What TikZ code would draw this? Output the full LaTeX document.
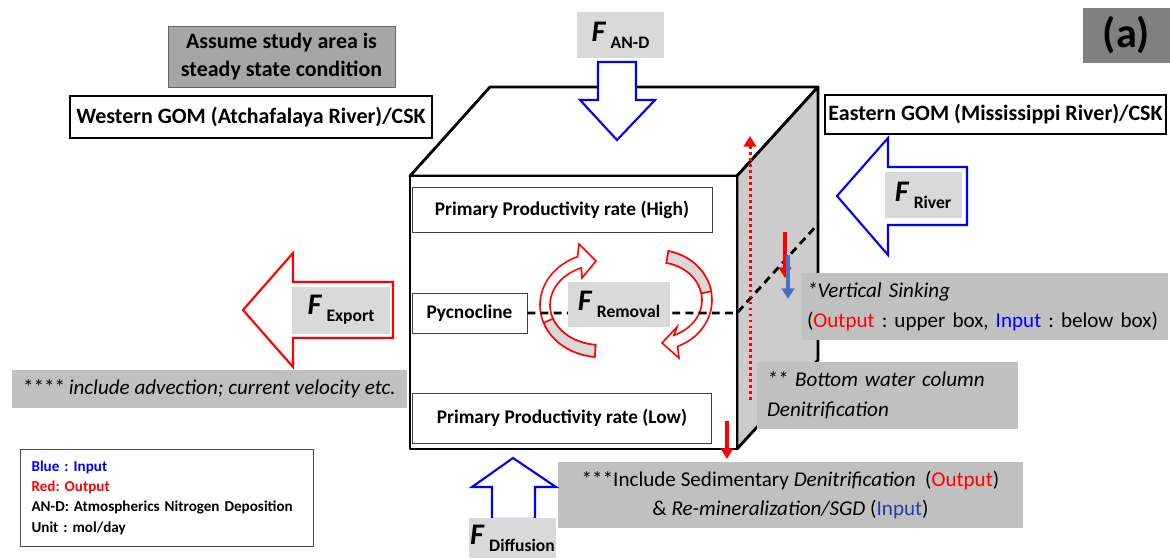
\documentclass[tikz,border=0pt]{standalone}
\usepackage{fontspec}
\setmainfont{Carlito}
\usepackage{tikz}
\usetikzlibrary{positioning, calc, arrows.meta}
\definecolor{gmInBlue}{RGB}{0,0,255}
\definecolor{gmOutRed}{RGB}{255,0,0}
\definecolor{gmSinkBlue}{RGB}{68,114,196}
\definecolor{gmDeepBlue}{RGB}{40,60,170}
\definecolor{gmLabel}{RGB}{217,217,217}
\definecolor{gmNote}{RGB}{192,192,192}
\definecolor{gmAssume}{RGB}{166,166,166}
\definecolor{gmTag}{RGB}{128,128,128}
\definecolor{gmFace}{RGB}{204,204,204}
\newcommand{\fluxlbl}[1]{{\fontsize{17}{20}\selectfont\bfseries\itshape F}\hspace{3pt}\raisebox{-4pt}{\fontsize{10}{12}\selectfont\bfseries #1}}
\frenchspacing

\begin{document}
\begin{tikzpicture}[
    x=0.02cm, y=-0.02cm,
    face/.style={draw=black, line width=1.6pt, line join=round},
    ppbox/.style={draw=black!75, thin, fill=white, inner sep=0pt, font=\fontsize{11}{13}\selectfont\bfseries},
    region/.style={draw=black, line width=1.6pt, fill=white, inner sep=0pt, font=\fontsize{12.5}{15}\selectfont\bfseries},
    fluxbox/.style={fill=gmLabel, inner sep=0pt},
    note/.style={fill=gmNote, inner sep=0pt, font=\fontsize{12}{17}\selectfont},
    inflow/.style={draw=gmInBlue, line width=1.2pt, fill=white, line join=miter},
    outflow/.style={draw=gmOutRed, line width=1.2pt, fill=white, line join=miter},
    swirl/.style={draw=gmOutRed, line width=0.9pt},
    sink/.style={line width=1.8pt, -{Triangle[length=6pt, width=7pt]}}
  ]
  \useasboundingbox (0,0) rectangle (1170,558);

  \coordinate (ftl) at (410,176);
  \coordinate (ftr) at (737,176);
  \coordinate (fbr) at (737,449);
  \coordinate (fbl) at (410,449);
  \coordinate (btl) at (490,87);
  \coordinate (btr) at (818,87);
  \coordinate (bbr) at (818,360);

  \draw[face, fill=white] (ftl) -- (btl) -- (btr) -- (ftr) -- cycle;
  \draw[face, fill=gmFace] (ftr) -- (btr) -- (bbr) -- (fbr) -- cycle;
  \draw[face, fill=white] (ftl) rectangle (fbr);

  \node[ppbox, minimum width=6cm, minimum height=0.9cm] (high) at (562,209.5) {Primary Productivity rate (High)};
  \node[ppbox, minimum width=5.98cm, minimum height=1cm] (low) at (562,418) {Primary Productivity rate (Low)};
  \node[ppbox, minimum width=2.3cm, minimum height=0.8cm] (pyc) at (469.5,313) {Pycnocline};

  \draw[inflow] (598,62) -- (636,62) -- (636,100) -- (655,100) -- (617,140) -- (580,100) -- (598,100) -- cycle;
  \node[fluxbox, minimum width=1.74cm, minimum height=0.92cm] (fand) at (620.5,35) {\fluxlbl{AN-D}};

  \draw[swirl, fill=white]
    plot[domain=265:112, samples=40] ({600+60*cos(\x)},{305-52*sin(\x)})
    -- (579,244) -- (596,261) -- (582,278)
    -- plot[domain=112:265, samples=40] ({600+50*cos(\x)},{305-40*sin(\x)}) -- cycle;
  \draw[swirl, fill=gmLabel]
    plot[domain=265:200, samples=20] ({600+60*cos(\x)},{305-52*sin(\x)})
    -- plot[domain=200:265, samples=20] ({600+50*cos(\x)},{305-40*sin(\x)}) -- cycle;
  \draw[swirl, fill=white]
    plot[domain=78:-68, samples=40] ({657+55*cos(\x)},{300-50*sin(\x)})
    -- (679,358) -- (662,343) -- (677,327)
    -- plot[domain=-68:78, samples=40] ({657+45*cos(\x)},{300-38*sin(\x)}) -- cycle;
  \draw[swirl, fill=gmLabel]
    plot[domain=78:10, samples=20] ({657+55*cos(\x)},{300-50*sin(\x)})
    -- plot[domain=10:78, samples=20] ({657+45*cos(\x)},{300-38*sin(\x)}) -- cycle;

  \coordinate (dmid) at (737,313);
  \coordinate (dend) at (818,224);
  \draw[line width=1.6pt, dash pattern=on 4.5pt off 3pt] (pyc.east) -- (dmid) -- (dend);
  \node[fluxbox, minimum width=2.04cm, minimum height=0.9cm] (frem) at (619,304) {\fluxlbl{Removal}};

  \coordinate (dotlo) at (750,400);
  \coordinate (dothi) at (750,136);
  \draw[gmOutRed, line width=1.7pt, dash pattern=on 1.6pt off 1.8pt, -{Triangle[length=6pt, width=7pt]}] (dotlo) -- (dothi);

  \coordinate (sr1) at (785,232);
  \coordinate (sr2) at (785,278);
  \coordinate (sb1) at (788,255);
  \coordinate (sb2) at (788,299);
  \draw[sink, gmOutRed] (sr1) -- (sr2);
  \draw[sink, gmSinkBlue] (sb1) -- (sb2);

  \node[note, minimum width=7.32cm, minimum height=1.34cm, text width=7.12cm, align=left] (sinking) at (985,306.5)
    {\textit{*Vertical Sinking}\\(\textcolor{gmOutRed}{Output} : upper box, \textcolor{gmInBlue}{Input} : below box)};
  \node[note, minimum width=5.22cm, minimum height=1.34cm, text width=4.82cm, align=left] (bottom) at (887.5,395.5)
    {\textit{** Bottom water column}\\\textit{Denitrification}};

  \coordinate (bd1) at (727,421);
  \coordinate (bd2) at (727,459);
  \draw[sink, gmOutRed] (bd1) -- (bd2);

  \node[note, minimum width=9.3cm, minimum height=1.32cm, align=center] (sed) at (790.5,495)
    {***Include Sedimentary \textit{Denitrification}~ (\textcolor{gmOutRed}{Output})\\\& \textit{Re-mineralization/SGD} (\textcolor{gmDeepBlue}{Input})};

  \draw[inflow] (967,167) -- (888,167) -- (888,138) -- (837,196) -- (888,255) -- (888,225) -- (967,225) -- cycle;
  \node[fluxbox, minimum width=1.54cm, minimum height=0.92cm] (friver) at (923,195) {\fluxlbl{River}};

  \draw[outflow] (393,282) -- (293,282) -- (293,253) -- (243,310) -- (293,367) -- (293,338) -- (393,338) -- cycle;
  \node[fluxbox, minimum width=1.96cm, minimum height=0.94cm] (fexport) at (341,310) {\fluxlbl{Export}};

  \draw[inflow] (492,519) -- (492,487) -- (472,487) -- (513,458) -- (556,487) -- (535,487) -- (535,519) -- cycle;
  \node[fluxbox, minimum width=1.74cm, minimum height=0.8cm] (fdiff) at (512.5,538) {\fluxlbl{Diffusion}};

  \node[note, minimum width=7.9cm, minimum height=0.76cm] (advect) at (209.5,389)
    {****\,\textit{include advection; current velocity etc.}};

  \node[draw=black!60, thin, fill=gmAssume, minimum width=4.54cm, minimum height=1.22cm, inner sep=0pt, align=center,
    font=\fontsize{12.5}{16}\selectfont\bfseries] (assume) at (281.5,56.5) {Assume study area is\\steady state condition};
  \node[region, minimum width=7.24cm, minimum height=0.84cm] (west) at (251,117) {Western GOM (Atchafalaya River)/CSK};
  \node[region, minimum width=6.82cm, minimum height=0.78cm] (east) at (995.5,114.5) {Eastern GOM (Mississippi River)/CSK};
  \node[fill=gmTag, minimum width=1.74cm, minimum height=1.1cm, inner sep=0pt, font=\fontsize{24}{26}\selectfont\bfseries] (tag) at (1126.5,35.5) {(a)};

  \node[draw=black!70, thin, fill=white, minimum width=5.86cm, minimum height=1.94cm, text width=5.4cm, align=left,
    inner sep=0pt, font=\fontsize{8.6}{11.6}\selectfont\bfseries] (legend) at (166.5,497.5)
    {\textcolor{gmInBlue}{Blue : Input}\\\textcolor{gmOutRed}{Red: Output}\\AN-D: Atmospherics Nitrogen Deposition\\Unit : mol/day};
\end{tikzpicture}
\end{document}
